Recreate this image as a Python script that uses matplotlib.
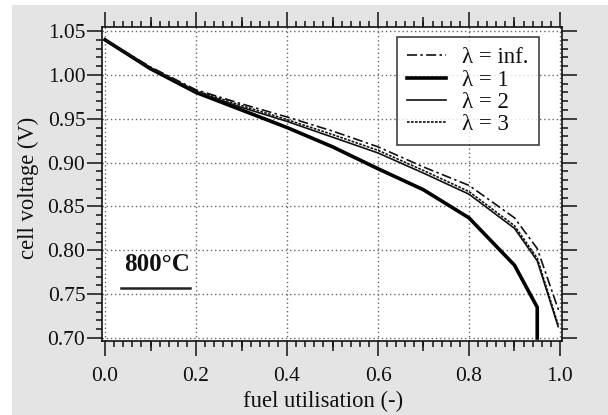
import matplotlib
matplotlib.use("Agg")
import matplotlib.pyplot as plt
from matplotlib.patches import Rectangle
from matplotlib.ticker import MultipleLocator, FormatStrFormatter

plt.rcParams['font.family'] = ['Liberation Serif', 'DejaVu Serif']

# ---- data ----
u_inf = [0.0, 0.1, 0.2, 0.3, 0.4, 0.5, 0.6, 0.7, 0.8, 0.9, 0.95, 0.998]
v_inf = [1.040, 1.009, 0.983, 0.967, 0.952, 0.936, 0.918, 0.895, 0.874, 0.837, 0.802, 0.730]

u_1 = [0.0, 0.1, 0.2, 0.3, 0.4, 0.5, 0.6, 0.7, 0.8, 0.9, 0.95, 0.95]
v_1 = [1.040, 1.007, 0.980, 0.960, 0.940, 0.918, 0.893, 0.869, 0.837, 0.783, 0.735, 0.700]

u_2 = [0.0, 0.1, 0.2, 0.3, 0.4, 0.5, 0.6, 0.7, 0.8, 0.9, 0.95, 0.996]
v_2 = [1.040, 1.008, 0.981, 0.963, 0.947, 0.929, 0.911, 0.888, 0.864, 0.825, 0.788, 0.713]

u_3 = [0.0, 0.1, 0.2, 0.3, 0.4, 0.5, 0.6, 0.7, 0.8, 0.9, 0.95, 0.996]
v_3 = [1.040, 1.008, 0.982, 0.965, 0.949, 0.932, 0.914, 0.891, 0.867, 0.828, 0.791, 0.715]

labels = ['λ = inf.', 'λ = 1', 'λ = 2', 'λ = 3']
x_ticks = [0.0, 0.2, 0.4, 0.6, 0.8, 1.0]
y_ticks = [0.70, 0.75, 0.80, 0.85, 0.90, 0.95, 1.00, 1.05]

TXT = '#111111'
FS_TICK = 15.5
FS_LAB = 16.3
FS_LEG = 16.5

fig = plt.figure(figsize=(6.08, 4.15), dpi=100)
fig.patch.set_facecolor('white')
fig.patches.append(Rectangle((12/608, 0), 1 - 12/608, 1 - 5/415,
                             transform=fig.transFigure, facecolor='#e4e4e4',
                             edgecolor='none', zorder=-10))

ax = fig.add_axes([102/608, (415-341)/415, 460/608, 314/415])
ax.set_facecolor('white')

ax.plot(u_inf, v_inf, color='#111111', lw=1.2, dashes=(6, 2, 1.5, 2), label=labels[0])
ax.plot(u_1, v_1, color='#000000', lw=2.6, label=labels[1])
ax.plot(u_2, v_2, color='#111111', lw=1.2, label=labels[2])
ax.plot(u_3, v_3, color='#111111', lw=1.2, dashes=(1.6, 0.8), label=labels[3])

ax.set_xlim(-0.0066, 1.0044)
ax.set_ylim(0.6966, 1.0546)
ax.set_xticks(x_ticks)
ax.set_yticks(y_ticks)
ax.xaxis.set_major_formatter(FormatStrFormatter('%.1f'))
ax.yaxis.set_major_formatter(FormatStrFormatter('%.2f'))
ax.xaxis.set_minor_locator(MultipleLocator(0.02))
ax.yaxis.set_minor_locator(MultipleLocator(0.01))

ax.tick_params(which='both', direction='out', top=True, right=True,
               color='#111111', width=1.1, labelsize=FS_TICK, labelcolor=TXT)
ax.tick_params(which='major', length=10.5)
ax.tick_params(which='minor', length=4.5)
ax.tick_params(axis='x', which='major', pad=8)
ax.tick_params(axis='y', which='major', pad=1.5)

# medium ticks at the odd tenths
for side in ('bottom', 'top'):
    sec = ax.secondary_xaxis(side)
    sec.set_xticks([0.1, 0.3, 0.5, 0.7, 0.9])
    sec.set_xticklabels([])
    sec.tick_params(direction='out', length=7, width=1.1, color='#111111')
    sec.spines[side].set_visible(False)

for sp in ax.spines.values():
    sp.set_linewidth(1.2)
    sp.set_color('#111111')

ax.grid(True, which='major', linestyle=(0, (1, 2)), color='#666666', lw=1.0)
ax.set_axisbelow(True)

ax.set_xlabel('fuel utilisation (-)', fontsize=FS_LAB, color=TXT)
ax.set_ylabel('cell voltage (V)', fontsize=FS_LAB, color=TXT)
ax.xaxis.set_label_coords(0.480, -0.158)
ax.yaxis.set_label_coords(-0.137, 0.487)

leg = ax.legend(loc='upper left', bbox_to_anchor=(0.641, 0.968), borderaxespad=0,
                fontsize=FS_LEG, frameon=True, fancybox=False, handlelength=1.7,
                labelspacing=0.05, handletextpad=0.7, borderpad=0.45)
leg.get_frame().set_edgecolor('#111111')
leg.get_frame().set_linewidth(1.2)
for t in leg.get_texts():
    t.set_color(TXT)

ax.text(0.12, 0.245, '800°C', transform=ax.transAxes, fontsize=18,
        fontweight='bold', ha='center', va='center', color=TXT)
ax.plot([0.041, 0.191], [0.169, 0.169], transform=ax.transAxes,
        color='#222222', lw=1.8, clip_on=False)

fig.savefig('out.png', dpi=100, facecolor=fig.get_facecolor())
